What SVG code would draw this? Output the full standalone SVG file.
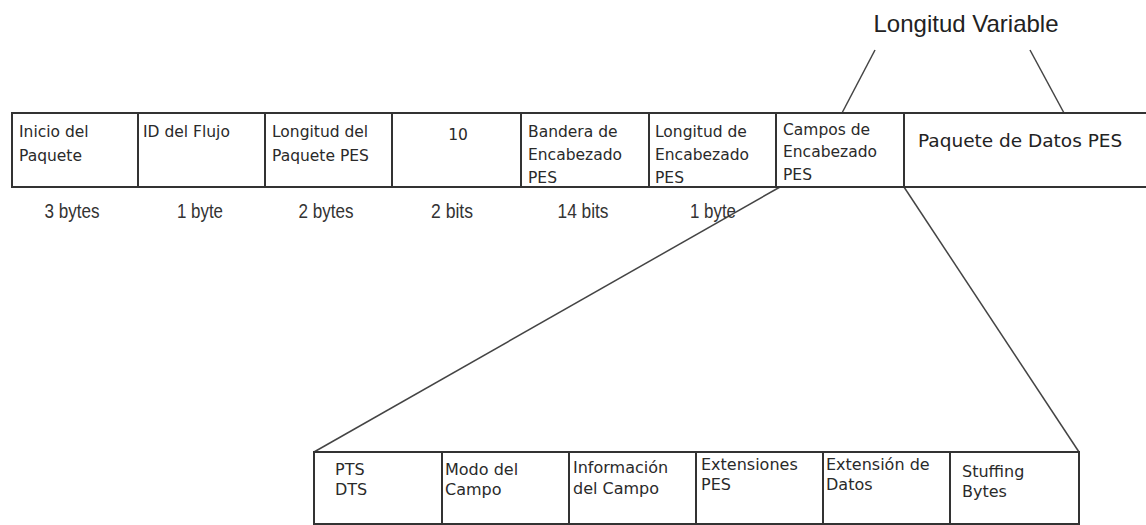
<svg xmlns="http://www.w3.org/2000/svg" width="1146" height="525" viewBox="0 0 1146 525">
  <style>
    .box { fill: #ffffff; stroke: #333333; stroke-width: 2; }
    .lbl { font-family: "DejaVu Sans", sans-serif; font-size: 15.5px; fill: #2a2a2a; }
    .lbl2 { font-family: "DejaVu Sans", sans-serif; font-size: 16px; fill: #2a2a2a; }
    .big { font-family: "DejaVu Sans", sans-serif; font-size: 18.5px; fill: #222222; }
    .size { font-family: "Liberation Sans", Arial, sans-serif; font-size: 21px; fill: #333333; text-anchor: middle; }
    .title { font-family: "Liberation Sans", Arial, sans-serif; font-size: 24px; fill: #222222; text-anchor: middle; }
    .conn { fill: none; stroke: #444444; stroke-width: 1.5; }
  </style>
  <rect width="1146" height="525" fill="#ffffff"/>

  <text class="title" x="966" y="32">Longitud Variable</text>

  <g id="connectors">
    <line class="conn" x1="842" y1="113" x2="875" y2="50"/>
    <line class="conn" x1="1064" y1="113" x2="1030" y2="50"/>
    <line class="conn" x1="780" y1="187" x2="314" y2="452"/>
    <line class="conn" x1="904" y1="187" x2="1079" y2="452"/>
  </g>

  <g id="inicio">
    <rect class="box" x="12" y="113" width="126" height="74"/>
    <text class="lbl" x="19" y="137">Inicio del</text>
    <text class="lbl" x="19" y="161">Paquete</text>
    <text class="size" x="72" y="218" textLength="55" lengthAdjust="spacingAndGlyphs">3 bytes</text>
  </g>
  <g id="id-flujo">
    <rect class="box" x="138" y="113" width="127" height="74"/>
    <text class="lbl" x="143" y="137">ID del Flujo</text>
    <text class="size" x="200" y="218" textLength="46" lengthAdjust="spacingAndGlyphs">1 byte</text>
  </g>
  <g id="longitud-paquete">
    <rect class="box" x="265" y="113" width="127" height="74"/>
    <text class="lbl" x="272" y="137">Longitud del</text>
    <text class="lbl" x="272" y="161">Paquete PES</text>
    <text class="size" x="326" y="218" textLength="55" lengthAdjust="spacingAndGlyphs">2 bytes</text>
  </g>
  <g id="diez">
    <rect class="box" x="392" y="113" width="129" height="74"/>
    <text class="lbl" x="458" y="140" text-anchor="middle">10</text>
    <text class="size" x="452" y="218" textLength="42" lengthAdjust="spacingAndGlyphs">2 bits</text>
  </g>
  <g id="bandera">
    <rect class="box" x="521" y="113" width="128" height="74"/>
    <text class="lbl" x="528" y="137">Bandera de</text>
    <text class="lbl" x="528" y="160">Encabezado</text>
    <text class="lbl" x="528" y="183">PES</text>
    <text class="size" x="583" y="218" textLength="51" lengthAdjust="spacingAndGlyphs">14 bits</text>
  </g>
  <g id="longitud-encabezado">
    <rect class="box" x="649" y="113" width="127" height="74"/>
    <text class="lbl" x="655" y="137">Longitud de</text>
    <text class="lbl" x="655" y="160">Encabezado</text>
    <text class="lbl" x="655" y="183">PES</text>
    <text class="size" x="713" y="218" textLength="46" lengthAdjust="spacingAndGlyphs">1 byte</text>
  </g>
  <g id="campos-encabezado">
    <rect class="box" x="776" y="113" width="128" height="74"/>
    <text class="lbl" x="783" y="135">Campos de</text>
    <text class="lbl" x="783" y="157">Encabezado</text>
    <text class="lbl" x="783" y="180">PES</text>
  </g>
  <g id="paquete-datos">
    <rect class="box" x="904" y="113" width="250" height="74"/>
    <text class="big" x="918" y="147">Paquete de Datos PES</text>
  </g>

  <g id="pts-dts">
    <rect class="box" x="314" y="452" width="128" height="72"/>
    <text class="lbl2" x="335" y="475">PTS</text>
    <text class="lbl2" x="335" y="495">DTS</text>
  </g>
  <g id="modo-campo">
    <rect class="box" x="442" y="452" width="127" height="72"/>
    <text class="lbl2" x="445" y="475">Modo del</text>
    <text class="lbl2" x="445" y="495">Campo</text>
  </g>
  <g id="info-campo">
    <rect class="box" x="569" y="452" width="127" height="72"/>
    <text class="lbl2" x="573" y="473">Información</text>
    <text class="lbl2" x="573" y="494">del Campo</text>
  </g>
  <g id="extensiones">
    <rect class="box" x="696" y="452" width="127" height="72"/>
    <text class="lbl2" x="701" y="470">Extensiones</text>
    <text class="lbl2" x="701" y="490">PES</text>
  </g>
  <g id="extension-datos">
    <rect class="box" x="823" y="452" width="127" height="72"/>
    <text class="lbl2" x="826" y="470">Extensión de</text>
    <text class="lbl2" x="826" y="490">Datos</text>
  </g>
  <g id="stuffing">
    <rect class="box" x="950" y="452" width="129" height="72"/>
    <text class="lbl2" x="962" y="477">Stuffing</text>
    <text class="lbl2" x="962" y="497">Bytes</text>
  </g>
</svg>
